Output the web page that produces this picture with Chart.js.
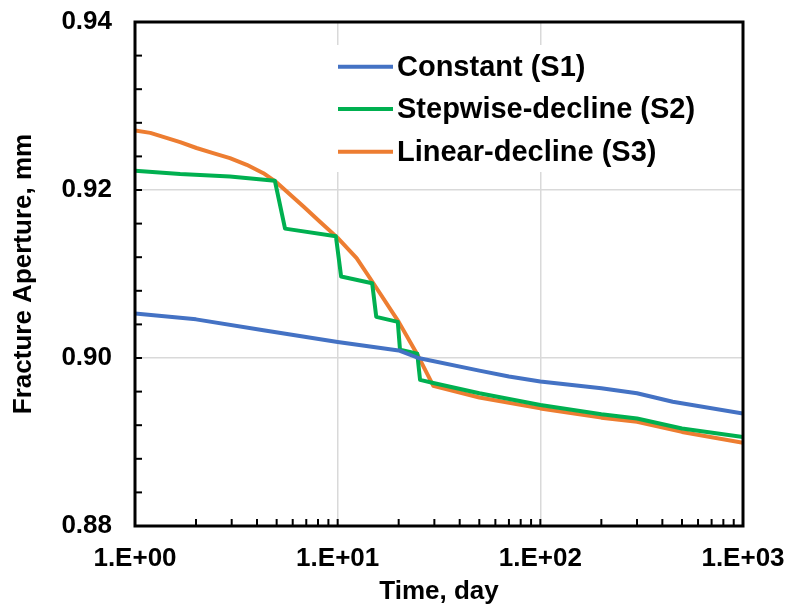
<!DOCTYPE html>
<html>
<head>
<meta charset="utf-8">
<script src="https://cdn.jsdelivr.net/npm/chart.js@4"></script>
<style>
html,body{margin:0;padding:0;background:#fff;}
#wrap{width:788px;height:607px;position:relative;}
</style>
</head>
<body>
<div id="wrap"><canvas id="c" width="788" height="607"></canvas></div>
<script>
// ---- data ----
const xTickValues = [1, 10, 100, 1000];
const xTickLabels = ['1.E+00', '1.E+01', '1.E+02', '1.E+03'];
const yTickValues = [0.88, 0.90, 0.92, 0.94];
const yTickLabels = ['0.88', '0.90', '0.92', '0.94'];

const seriesNames = ['Constant (S1)', 'Stepwise-decline (S2)', 'Linear-decline (S3)'];

const s1Days = [1, 2, 4.3, 10, 20, 25, 50, 70, 100, 200, 300, 450, 1000];
const s1Aperture = [0.9053, 0.9046, 0.9033, 0.9019, 0.9009, 0.9000, 0.8985, 0.8978, 0.8972, 0.8964, 0.8958, 0.8948, 0.8934];

const s2Days = [1, 1.67, 2.94, 4.9, 5.5, 9.8, 10.4, 14.8, 15.5, 19.8, 20.3, 24.7, 25.5, 30, 50, 100, 200, 300, 500, 1000];
const s2Aperture = [0.9223, 0.9219, 0.9216, 0.9211, 0.9154, 0.9145, 0.9097, 0.9089, 0.9049, 0.9043, 0.9010, 0.9005, 0.8974, 0.8970, 0.8958, 0.8944, 0.8933, 0.8928, 0.8916, 0.8906];

const s3Days = [1, 1.19, 1.67, 2.01, 2.43, 2.94, 3.56, 4.3, 5, 6.8, 8.2, 10, 12.4, 15, 20, 25, 29.6, 50, 100, 200, 300, 500, 1000];
const s3Aperture = [0.9271, 0.9268, 0.9257, 0.9250, 0.9244, 0.9238, 0.9230, 0.9220, 0.9209, 0.9180, 0.9162, 0.9143, 0.9119, 0.9089, 0.9043, 0.9002, 0.8967, 0.8953, 0.8940, 0.8929, 0.8924, 0.8912, 0.8899];

const colors = ['#4472C4', '#00B050', '#ED7D31'];
const FONT = '"Liberation Sans", Arial, sans-serif';

function pts(xs, ys) { return xs.map((x, i) => ({x: x, y: ys[i]})); }

const frameAndLegend = {
  id: 'frameAndLegend',
  beforeDatasetsDraw(chart) {
    const ctx = chart.ctx;
    ctx.save();
    ctx.fillStyle = '#fff';
    ctx.fillRect(330, 45, 385, 127);
    const rows = [66.7, 109, 151.7];
    chart.data.datasets.forEach((ds, i) => {
      ctx.strokeStyle = ds.borderColor;
      ctx.lineWidth = 4;
      ctx.beginPath();
      ctx.moveTo(338, rows[i]);
      ctx.lineTo(393, rows[i]);
      ctx.stroke();
      ctx.fillStyle = '#000';
      ctx.font = 'bold 29px ' + FONT;
      ctx.textBaseline = 'middle';
      ctx.textAlign = 'left';
      ctx.fillText(ds.label, 397, rows[i] + 1);
    });
    ctx.restore();
  },
  afterDatasetsDraw(chart) {
    const ctx = chart.ctx;
    const a = chart.chartArea;
    const xs = chart.scales.x, ys = chart.scales.y;
    ctx.save();
    ctx.strokeStyle = '#000';
    ctx.lineWidth = 2;
    for (let k = 0; k <= 15; k++) {
      const v = 0.88 + k * 0.004;
      const py = ys.getPixelForValue(v);
      ctx.beginPath(); ctx.moveTo(a.left, py); ctx.lineTo(a.left + 7, py); ctx.stroke();
    }
    for (let d = 1; d <= 100; d *= 10) {
      for (let m = 2; m <= 10; m++) {
        const px = xs.getPixelForValue(d * m);
        ctx.beginPath(); ctx.moveTo(px, a.bottom); ctx.lineTo(px, a.bottom - 7); ctx.stroke();
      }
    }
    ctx.lineWidth = 3;
    ctx.strokeRect(a.left, a.top, a.right - a.left, a.bottom - a.top);
    ctx.restore();
  }
};

new Chart(document.getElementById('c'), {
  type: 'line',
  data: {
    datasets: [
      {label: seriesNames[0], data: pts(s1Days, s1Aperture), borderColor: colors[0], backgroundColor: colors[0]},
      {label: seriesNames[1], data: pts(s2Days, s2Aperture), borderColor: colors[1], backgroundColor: colors[1]},
      {label: seriesNames[2], data: pts(s3Days, s3Aperture), borderColor: colors[2], backgroundColor: colors[2]}
    ]
  },
  options: {
    responsive: false,
    animation: false,
    layout: {padding: {top: 22, right: 45, left: 0, bottom: 0}},
    elements: {
      line: {borderWidth: 4, tension: 0, borderCapStyle: 'butt', borderJoinStyle: 'round'},
      point: {radius: 0}
    },
    plugins: {legend: {display: false}, tooltip: {enabled: false}},
    scales: {
      x: {
        type: 'logarithmic',
        min: 1, max: 1000,
        afterBuildTicks(scale) { scale.ticks = xTickValues.map(v => ({value: v})); },
        afterFit(scale) { scale.height = 81; scale.paddingLeft = 0; scale.paddingRight = 0; },
        ticks: {
          autoSkip: false, maxRotation: 0, padding: 17, color: '#000',
          font: {family: FONT, size: 26, weight: 'bold'},
          callback: (v) => { const i = xTickValues.indexOf(v); return i >= 0 ? xTickLabels[i] : ''; }
        },
        grid: {color: '#d9d9d9', lineWidth: 1.5, drawTicks: false},
        border: {display: false},
        title: {display: true, text: 'Time, day', color: '#000', padding: {top: 0, bottom: 0},
          font: {family: FONT, size: 26, weight: 'bold'}}
      },
      y: {
        type: 'linear',
        min: 0.88, max: 0.94,
        afterBuildTicks(scale) { scale.ticks = yTickValues.map(v => ({value: v})); },
        afterFit(scale) { scale.width = 135; scale.paddingTop = 0; scale.paddingBottom = 0; },
        ticks: {
          padding: 23, color: '#000',
          font: {family: FONT, size: 26, weight: 'bold'},
          callback: (v) => { const i = yTickValues.findIndex(t => Math.abs(t - v) < 1e-9); return i >= 0 ? yTickLabels[i] : ''; }
        },
        grid: {color: '#d9d9d9', lineWidth: 1.5, drawTicks: false},
        border: {display: false},
        title: {display: true, text: 'Fracture Aperture, mm', color: '#000', padding: {top: 8, bottom: 0},
          font: {family: FONT, size: 26, weight: 'bold'}}
      }
    }
  },
  plugins: [frameAndLegend]
});
</script>
</body>
</html>
